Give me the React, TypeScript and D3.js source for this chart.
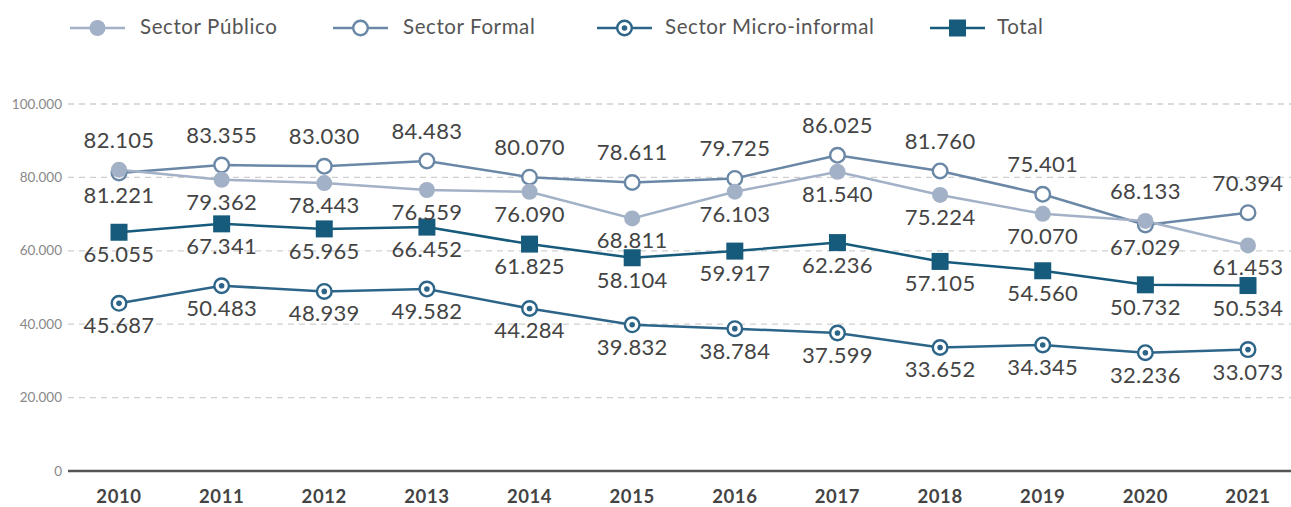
import React from "react";
import * as d3 from "d3";

const years = ["2010","2011","2012","2013","2014","2015","2016","2017","2018","2019","2020","2021"];
const publico = [82105, 79362, 78443, 76559, 76090, 68811, 76103, 81540, 75224, 70070, 68133, 61453];
const formal = [81221, 83355, 83030, 84483, 80070, 78611, 79725, 86025, 81760, 75401, 67029, 70394];
const micro = [45687, 50483, 48939, 49582, 44284, 39832, 38784, 37599, 33652, 34345, 32236, 33073];
const total = [65055, 67341, 65965, 66452, 61825, 58104, 59917, 62236, 57105, 54560, 50732, 50534];
const yTicks = [0, 20000, 40000, 60000, 80000, 100000];

const C_PUB = "#a3b1c6";
const C_FOR = "#6a88a6";
const C_MIC = "#2d6589";
const C_TOT = "#175b7c";
const FONT = "Lato, 'Noto Sans', sans-serif";

const W = 1291, H = 507;
const fmt = (v: number) => d3.format(",")(v).replace(/,/g, ".");

export default function App() {
  const x = d3.scalePoint<string>().domain(years).range([119, 1248]);
  const y = d3.scaleLinear().domain([0, 100000]).range([471, 104]);
  const line = d3.line<number>().x((_, i) => x(years[i])!).y((d) => y(d));

  const marker = (kind: string, cx: number, cy: number, key: string) => {
    if (kind === "pub") return <circle key={key} cx={cx} cy={cy} r={8} fill={C_PUB} />;
    if (kind === "for") return <circle key={key} cx={cx} cy={cy} r={7.3} fill="#fff" stroke={C_FOR} strokeWidth={2.4} />;
    if (kind === "mic")
      return (
        <g key={key}>
          <circle cx={cx} cy={cy} r={7.3} fill="#fff" stroke={C_MIC} strokeWidth={2.4} />
          <circle cx={cx} cy={cy} r={2.8} fill={C_MIC} />
        </g>
      );
    return <rect key={key} x={cx - 8.5} y={cy - 8.5} width={17} height={17} fill={C_TOT} />;
  };

  const series = [
    { kind: "for", data: formal, color: C_FOR },
    { kind: "pub", data: publico, color: C_PUB },
    { kind: "tot", data: total, color: C_TOT },
    { kind: "mic", data: micro, color: C_MIC },
  ];

  const labelDy = (kind: string, i: number) => {
    if (kind === "pub" || kind === "for") {
      const other = kind === "pub" ? formal[i] : publico[i];
      const mine = kind === "pub" ? publico[i] : formal[i];
      return mine >= other ? -22 : 30;
    }
    return 30;
  };

  const legend = [
    { kind: "pub", label: "Sector Público", x0: 70, color: C_PUB, tx: 140 },
    { kind: "for", label: "Sector Formal", x0: 333, color: C_FOR, tx: 403 },
    { kind: "mic", label: "Sector Micro-informal", x0: 597, color: C_MIC, tx: 665 },
    { kind: "tot", label: "Total", x0: 930, color: C_TOT, tx: 997 },
  ];

  return (
    <svg width={W} height={H} style={{ position: "absolute", left: 0, top: 0, fontFamily: FONT }}>
      <rect width={W} height={H} fill="#fff" />
      {legend.map((l) => (
        <g key={l.label}>
          <line x1={l.x0} x2={l.x0 + 55} y1={28} y2={28} stroke={l.color} strokeWidth={2.5} />
          {marker(l.kind, l.x0 + 27.5, 28, "lg" + l.kind)}
          <text x={l.tx} y={34} fontSize={20.5} letterSpacing={0.6} fill="#555">{l.label}</text>
        </g>
      ))}
      {yTicks.map((t) => (
        <g key={t}>
          {t > 0 && (
            <line x1={68} x2={W} y1={y(t)} y2={y(t)} stroke="#cfcfcf" strokeWidth={1.3} strokeDasharray="6,5" />
          )}
          <text x={62} y={y(t) + 4.5} fontSize={13.5} fill="#888" textAnchor="end">{fmt(t)}</text>
        </g>
      ))}
      <line x1={68} x2={W} y1={y(0)} y2={y(0)} stroke="#555" strokeWidth={2.5} />
      {years.map((yr) => (
        <text key={yr} x={x(yr)} y={503} fontSize={18.5} fontWeight="bold" letterSpacing={0.6} fill="#444" textAnchor="middle">{yr}</text>
      ))}
      {series.map((s) => (
        <path key={"l" + s.kind} d={line(s.data)!} fill="none" stroke={s.color} strokeWidth={2.5} />
      ))}
      {series.map((s) => (
        <g key={"m" + s.kind}>{s.data.map((v, i) => marker(s.kind, x(years[i])!, y(v), s.kind + i))}</g>
      ))}
      {series.map((s) => (
        <g key={"t" + s.kind}>
          {s.data.map((v, i) => (
            <text key={i} x={x(years[i])} y={y(v) + labelDy(s.kind, i)} fontSize={22} letterSpacing={0.3} fill="#444" textAnchor="middle">
              {fmt(v)}
            </text>
          ))}
        </g>
      ))}
    </svg>
  );
}
